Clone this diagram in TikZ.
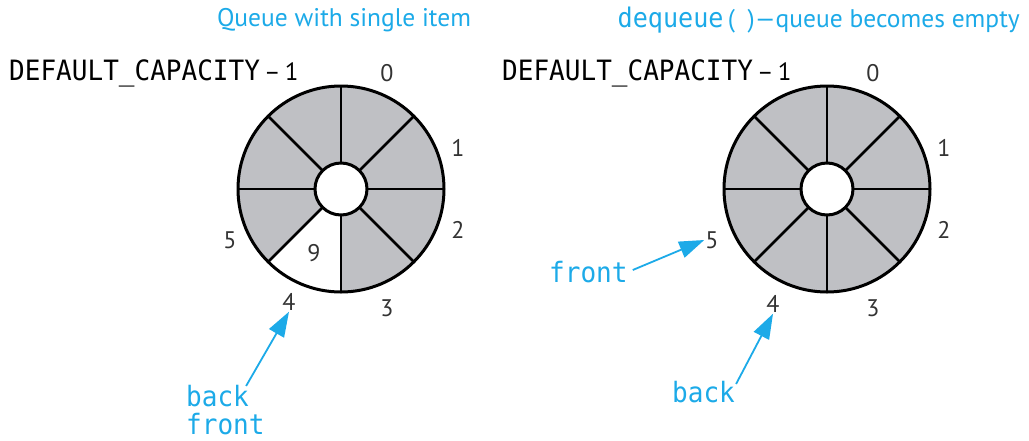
\documentclass[tikz,border=0pt]{standalone}
\usepackage{fontspec}
\setmainfont{PT Sans}
\setmonofont{DejaVu Sans Mono}
\usetikzlibrary{arrows.meta}
\definecolor{qblue}{RGB}{28,170,232}
\definecolor{slotgray}{RGB}{191,192,196}
% narrow typewriter text
\newcommand{\condtt}[1]{\scalebox{0.93}[1]{\ttfamily #1}}

\begin{document}
\begin{tikzpicture}[x=1pt,y=1pt]
    \tikzset{idx/.style = {font=\fontsize{24}{24}\selectfont, text=black!80, inner sep=1pt}}
    \tikzset{code/.style = {font=\fontsize{28}{28}\selectfont, inner sep=1pt}}
    \tikzset{tag/.style = {code, text=qblue, anchor=west}}
    \tikzset{title/.style = {font=\fontsize{25.5}{26}\selectfont, text=qblue, inner sep=0pt}}
    \tikzset{ptr/.style = {draw=qblue, line width=1.8pt, -{Triangle[length=25pt,width=17pt]}}}
    \tikzset{rim/.style = {line width=3pt}}
    \tikzset{spoke/.style = {line width=2.5pt}}

    \useasboundingbox (0,0) rectangle (1029,-440);

    % titles
    \node[title] (t1) at (344,-20) {Queue with single item};
    \node[title, anchor=east] (t2) at (1020,-20) {{\fontsize{27}{27}\selectfont\condtt{dequeue}}\,(\enspace)—queue becomes empty};

    % left queue: one item, in slot 4
    \coordinate (lc) at (341,-189);
    \fill[slotgray] (lc) circle (103);
    \fill[white] (lc) -- ++(-90:103) arc (-90:-135:103) -- cycle;
    \foreach \a in {0,45,...,315}
        \draw[spoke] (lc) ++(\a:26) -- ++(\a:77);
    \draw[rim, fill=white] (lc) circle (26);
    \draw[rim] (lc) circle (103);

    \node[code, anchor=west] (lcap) at (8,-73) {\condtt{DEFAULT\_CAPACITY}{\fontsize{25}{25}\selectfont\,–\,1}};
    \node[idx] (l0) at (387,-73) {0};
    \node[idx] (l1) at (458,-148) {1};
    \node[idx] (l2) at (458,-230) {2};
    \node[idx] (l3) at (387,-308) {3};
    \node[idx] (l4) at (289,-302) {4};
    \node[idx] (l5) at (230,-240) {5};
    \node[idx] (l9) at (314,-253) {9};

    \node[tag] (lback) at (185,-396) {\condtt{back}};
    \node[tag] (lfront) at (185,-424) {\condtt{front}};
    \draw[ptr] (lback.north east) ++(-4,-2) -- (l4.south);

    % right queue: after dequeue, empty
    \coordinate (rc) at (827,-189);
    \fill[slotgray] (rc) circle (103);
    \foreach \a in {0,45,...,315}
        \draw[spoke] (rc) ++(\a:26) -- ++(\a:77);
    \draw[rim, fill=white] (rc) circle (26);
    \draw[rim] (rc) circle (103);

    \node[code, anchor=west] (rcap) at (501,-73) {\condtt{DEFAULT\_CAPACITY}{\fontsize{25}{25}\selectfont\,–\,1}};
    \node[idx] (r0) at (873,-73) {0};
    \node[idx] (r1) at (944,-148) {1};
    \node[idx] (r2) at (944,-230) {2};
    \node[idx] (r3) at (873,-308) {3};
    \node[idx] (r4) at (773,-304) {4};
    \node[idx] (r5) at (712,-240) {5};

    \node[tag] (rfront) at (548,-272) {\condtt{front}};
    \node[tag] (rback) at (671,-392) {\condtt{back}};
    \draw[ptr] (rfront.east) ++(4,2) -- (r5.west);
    \draw[ptr] (rback.north east) ++(0,-4) -- (r4.south);
\end{tikzpicture}
\end{document}
